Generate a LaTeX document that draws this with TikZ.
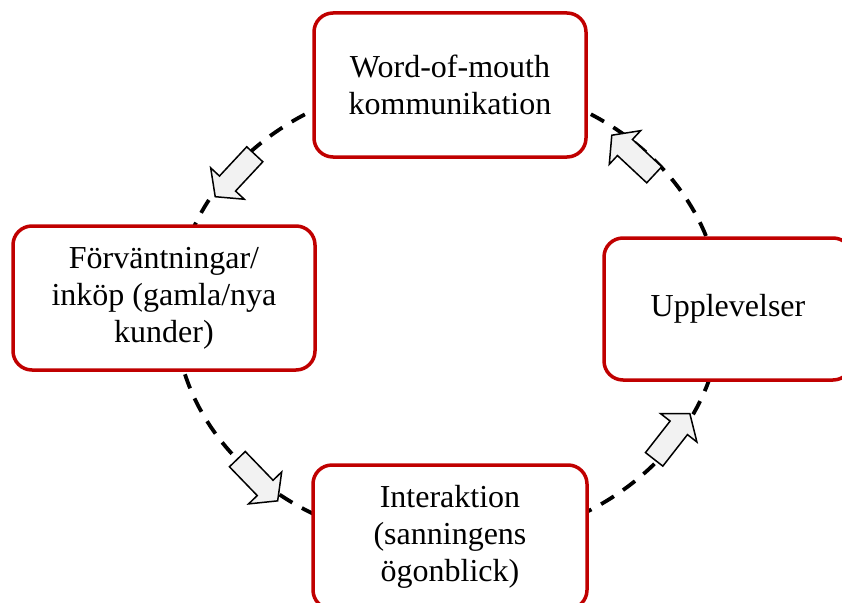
\documentclass[tikz,border=0pt]{standalone}
\usepackage{fontspec}
\setmainfont{Liberation Serif}
\definecolor{boxred}{HTML}{C00000}
\definecolor{arrowgray}{HTML}{F2F2F2}
\begin{document}
\begin{tikzpicture}[x=1pt,y=-1pt,
  stage/.style={draw=boxred, line width=3.5pt, fill=white, rounded corners=19pt,
    minimum width=#1, minimum height=144pt, inner sep=0pt, align=center,
    font=\fontsize{32}{37}\selectfont},
  ring/.style={line width=3.8pt, dash pattern=on 15pt off 11pt},
  flowarrow/.pic={\draw[line width=1.5pt, fill=arrowgray, line join=miter]
    (-29,-11) -- (11,-11) -- (11,-23) -- (29,0) -- (11,23) -- (11,11) -- (-29,11) -- cycle;}
]
\useasboundingbox (0,0) rectangle (842,602);
\clip (0,0) rectangle (842,602);

% dashed cycle behind the stages
\coordinate (hub) at (448,312);
\draw[ring] (hub) ellipse [x radius=273pt, y radius=232pt];

% direction markers along the cycle
\pic[rotate=-133] at (235,175.5) {flowarrow};
\pic[rotate=-46] at (257.5,480) {flowarrow};
\pic[rotate=52] at (672,436.5) {flowarrow};
\pic[rotate=137] at (633,155) {flowarrow};

% stages
\node[stage=272pt] (wom) at (450,85) {Word-of-mouth\\kommunikation};
\node[stage=302pt] (exp) at (164,298) {Förväntningar/\\inköp (gamla/nya\\kunder)};
\node[stage=274pt] (inter) at (450,537) {Interaktion\\(sanningens\\ögonblick)};
\node[stage=248pt, minimum height=142pt] (upp) at (728,309) {Upplevelser};
\end{tikzpicture}
\end{document}
